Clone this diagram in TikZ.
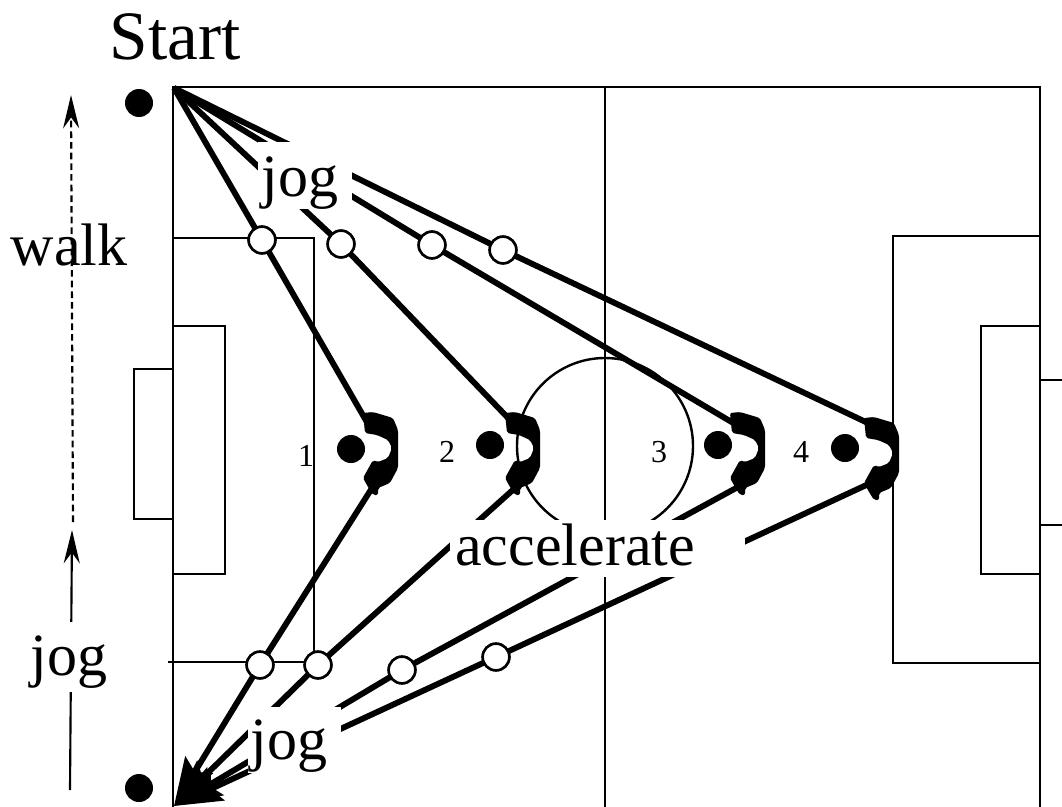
\documentclass[tikz,border=0pt]{standalone}
\usepackage{fontspec}
\setmainfont{Liberation Serif}
\usetikzlibrary{arrows.meta}
\tikzset{
  x=0.75pt,y=-0.75pt,
  fieldline/.style={line width=1.8pt,line join=miter},
  runline/.style={line width=4.4pt,line cap=butt},
  cone/.style={circle,fill=black,draw=none,minimum size=21pt,inner sep=0pt},
  marker/.style={circle,fill=white,draw=black,line width=1.9pt,minimum size=20pt,inner sep=0pt},
  biglabel/.style={anchor=base,inner sep=0pt,font=\fontsize{45}{50}\selectfont},
  numlabel/.style={anchor=base,inner sep=0pt,font=\fontsize{24}{28}\selectfont},
  mask/.style={fill=white,draw=none},
  toparrow/.style={line width=1.6pt,-{Stealth[length=25pt,width=12pt]}},
  bigtip/.style={-{Stealth[length=36pt,width=24pt,inset=6pt]}},
}
\newcommand{\hookshape}[2]{%
  \begin{scope}[shift={(#1,#2)}]
    \fill[rounded corners=1.5pt] (-35,-40) -- (-25,-41) -- (-5,-35) -- (0,-23) -- (0,15)
      -- (-8,30) -- (-20,35) -- (-20,42) -- (-25,42) -- (-30,34) -- (-35,25) -- (-25,7)
      -- (-20,9) -- (-10,5) -- (-6,-5) -- (-10,-13) -- (-21,-18) -- (-33,-20) -- cycle;
  \end{scope}}
\begin{document}
\begin{tikzpicture}
\useasboundingbox (0,0) rectangle (1062,806);
% field
\draw[fieldline] (173,810) -- (173,87) -- (1040,87) -- (1040,810);
\draw[fieldline] (605,87) -- (605,810);
\draw[fieldline] (173,238) -- (314,238) -- (314,662);
\draw[fieldline] (168,662) -- (314,662);
\draw[fieldline] (173,326) -- (225,326) -- (225,574) -- (173,574);
\draw[fieldline] (173,369) -- (134,369) -- (134,519) -- (173,519);
\draw[fieldline] (1040,236) -- (893,236) -- (893,663) -- (1040,663);
\draw[fieldline] (1040,326) -- (981,326) -- (981,574) -- (1040,574);
\draw[fieldline] (1040,380) -- (1062,380);
\draw[fieldline] (1040,525) -- (1062,525);
\draw[fieldline] (605,446) circle[x radius=88,y radius=88];
% named points
\coordinate (start) at (174,88);
\coordinate (finish) at (174,806);
\coordinate (in1) at (368,424);
\coordinate (in2) at (510,420);
\coordinate (in3) at (735,424);
\coordinate (in4) at (870,424);
\coordinate (out1) at (372,488);
\coordinate (out2) at (515,488);
\coordinate (out3) at (738,487);
\coordinate (out4) at (875,481);
\node[marker] (a1) at (262,240) {};
\node[marker] (a2) at (341,244) {};
\node[marker] (a3) at (432,245) {};
\node[marker] (a4) at (503,250) {};
\node[marker] (b1) at (260,665) {};
\node[marker] (b2) at (318,665) {};
\node[marker] (b3) at (402,670) {};
\node[marker] (b4) at (496,657) {};
% runs
\foreach \i in {1,2,3,4}{
  \draw[runline] (start) -- (a\i.center) -- (in\i);
  \draw[runline,bigtip] (out\i) -- (b\i.center) -- (finish);
}
\hookshape{398}{453}
\hookshape{540}{453}
\hookshape{765}{453}
\hookshape{899}{458}
% redraw markers on top
\foreach \i/\x/\y in {1/262/240,2/341/244,3/432/245,4/503/250}{
  \node[marker] (ta\i) at (\x,\y) {};
}
\foreach \i/\x/\y in {1/260/665,2/318/665,3/402/670,4/496/657}{
  \node[marker] (tb\i) at (\x,\y) {};
}
% cones
\node[cone] (startdot) at (139,103) {};
\node[cone] (enddot) at (139,788) {};
\node[cone] (c1) at (351,449) {};
\node[cone] (c2) at (490,445) {};
\node[cone] (c3) at (718,445) {};
\node[cone] (c4) at (845,448) {};
\node[numlabel] (n1) at (306,466) {1};
\node[numlabel] (n2) at (447,462) {2};
\node[numlabel] (n3) at (659,462) {3};
\node[numlabel] (n4) at (801,462) {4};
% side arrows
\coordinate (w0) at (73,522);
\coordinate (w1) at (71,95);
\coordinate (j0) at (70,790);
\coordinate (j1) at (72,530);
\draw[toparrow,dash pattern=on 5pt off 3pt] (w0) -- (w1);
\draw[toparrow] (j0) -- (j1);
% masks and labels
\fill[mask] (258,142) rectangle (352,209);
\fill[mask] (248,707) rectangle (341,773);
\fill[mask] (450,520) rectangle (745,577);
\fill[mask] (25,622) rectangle (115,692);
\node[biglabel] (jogtop) at (300,196) {jog};
\node[biglabel] (jogbot) at (289,759) {jog};
\node[biglabel] (acc) at (575,565) {accelerate};
\node[biglabel] (jogleft) at (69,675) {jog};
\node[biglabel] (walk) at (69,265) {walk};
\node[biglabel,font=\fontsize{52}{56}\selectfont] (st) at (175,60) {Start};
\end{tikzpicture}
\end{document}
